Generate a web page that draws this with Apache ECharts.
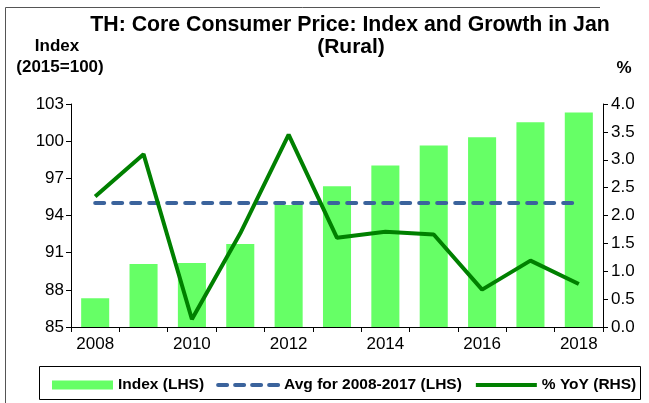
<!DOCTYPE html>
<html>
<head>
<meta charset="utf-8">
<script src="https://cdn.jsdelivr.net/npm/echarts@6/dist/echarts.min.js"></script>
<style>
html,body{margin:0;padding:0;background:#fff;}
#chart{width:649px;height:403px;}
</style>
</head>
<body>
<div id="chart"></div>
<script>
// ---- data ----
var years = ['2008','2009','2010','2011','2012','2013','2014','2015','2016','2017','2018'];
var indexValues = [87.32, 90.08, 90.17, 91.70, 94.85, 96.36, 98.03, 99.65, 100.32, 101.53, 102.31];
var avgValues = [95.0, 95.0, 95.0, 95.0, 95.0, 95.0, 95.0, 95.0, 95.0, 95.0, 95.0];
var yoyValues = [2.34, 3.10, 0.14, 1.68, 3.45, 1.60, 1.71, 1.66, 0.67, 1.19, 0.77];
var leftTicks = {min: 85, max: 103, interval: 3};
var rightTicks = {min: 0, max: 4, interval: 0.5};
var seriesNames = ['Index (LHS)', 'Avg for 2008-2017 (LHS)', '% YoY (RHS)'];

var FONT = 'Liberation Sans, Arial, sans-serif';
var chart = echarts.init(document.getElementById('chart'), null, {renderer: 'canvas'});
var axisLine = {show: true, lineStyle: {color: '#000', width: 1}};
var axisTick = {show: true, length: 5, lineStyle: {color: '#000'}};
chart.setOption({
  animation: false,
  backgroundColor: '#fff',
  grid: {left: 71, right: 46, top: 104, bottom: 76},
  xAxis: {
    type: 'category', data: years, boundaryGap: true,
    axisLine: axisLine,
    axisTick: {show: true, length: 5, interval: 0, alignWithLabel: false, lineStyle: {color: '#000'}},
    axisLabel: {color: '#000', fontFamily: FONT, fontSize: 17, interval: 1, margin: 9},
    splitLine: {show: false}
  },
  yAxis: [
    {
      type: 'value', position: 'left', min: leftTicks.min, max: leftTicks.max, interval: leftTicks.interval,
      axisLine: axisLine, axisTick: axisTick, splitLine: {show: false},
      axisLabel: {color: '#000', fontFamily: FONT, fontSize: 17, margin: 7}
    },
    {
      type: 'value', position: 'right', min: rightTicks.min, max: rightTicks.max, interval: rightTicks.interval,
      axisLine: axisLine, axisTick: axisTick, splitLine: {show: false},
      axisLabel: {color: '#000', fontFamily: FONT, fontSize: 17, margin: 8,
        formatter: function (v) { return v.toFixed(1); }}
    }
  ],
  legend: {
    left: 47, top: 372, itemGap: 12, itemWidth: 61, itemHeight: 9,
    textStyle: {color: '#000', fontFamily: FONT, fontSize: 15.5, fontWeight: 'bold'},
    data: [
      {name: seriesNames[0], icon: 'rect'},
      {name: seriesNames[1], itemStyle: {opacity: 0}, lineStyle: {width: 4, type: [9, 8], cap: 'round', color: '#3B639C'}},
      {name: seriesNames[2], itemStyle: {opacity: 0}, lineStyle: {width: 4, color: '#008000'}}
    ]
  },
  series: [
    {
      name: seriesNames[0], type: 'bar', yAxisIndex: 0, data: indexValues,
      barWidth: '58%', itemStyle: {color: '#66FF66'}
    },
    {
      name: seriesNames[1], type: 'line', yAxisIndex: 0, data: avgValues,
      symbol: 'none', showSymbol: false,
      lineStyle: {color: '#3B639C', width: 4, type: [9, 9], cap: 'round'},
      itemStyle: {color: '#3B639C'}
    },
    {
      name: seriesNames[2], type: 'line', yAxisIndex: 1, data: yoyValues,
      symbol: 'none', showSymbol: false,
      lineStyle: {color: '#008000', width: 4},
      itemStyle: {color: '#008000'}
    }
  ],
  graphic: [
    {type: 'polyline', shape: {points: [[5.5, 403], [5.5, 7.5], [600, 7.5]]}, style: {stroke: '#555', lineWidth: 1, fill: null}, silent: true},
    {type: 'rect', shape: {x: 39.5, y: 366.5, width: 601, height: 33}, style: {stroke: '#000', lineWidth: 1, fill: null}, silent: true, z: -1},
    {type: 'text', x: 350, y: 25, style: {text: 'TH: Core Consumer Price: Index and Growth in Jan', font: 'bold 21.3px ' + FONT, fill: '#000', textAlign: 'center', textVerticalAlign: 'middle'}},
    {type: 'text', x: 351, y: 47, style: {text: '(Rural)', font: 'bold 21px ' + FONT, fill: '#000', textAlign: 'center', textVerticalAlign: 'middle'}},
    {type: 'text', x: 57, y: 46, style: {text: 'Index', font: 'bold 17px ' + FONT, fill: '#000', textAlign: 'center', textVerticalAlign: 'middle'}},
    {type: 'text', x: 60, y: 67, style: {text: '(2015=100)', font: 'bold 17px ' + FONT, fill: '#000', textAlign: 'center', textVerticalAlign: 'middle'}},
    {type: 'text', x: 624, y: 68, style: {text: '%', font: 'bold 17px ' + FONT, fill: '#000', textAlign: 'center', textVerticalAlign: 'middle'}}
  ]
});
</script>
</body>
</html>
